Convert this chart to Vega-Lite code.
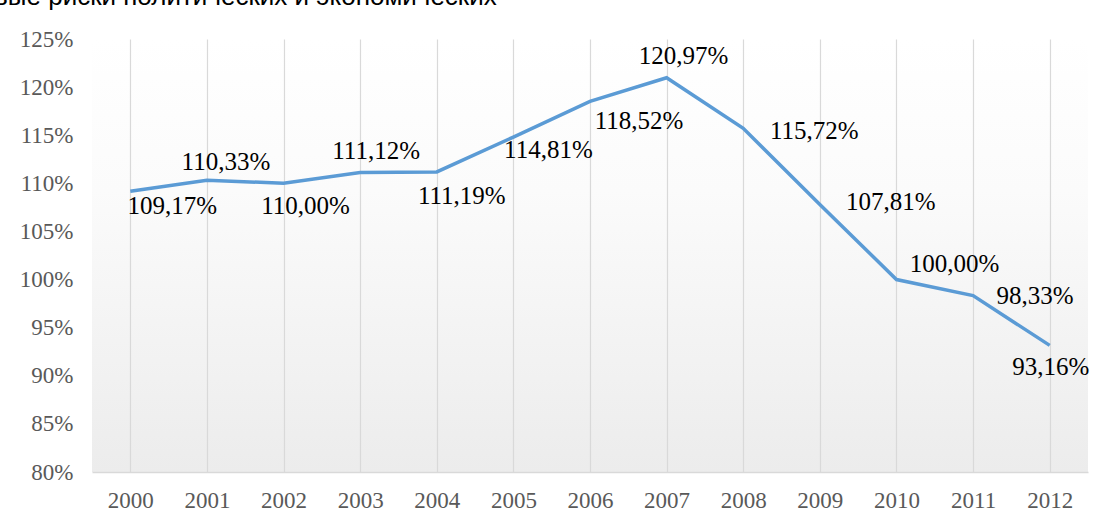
{
  "$schema": "https://vega.github.io/schema/vega-lite/v6.json",
  "autosize": {"type": "none"},
  "width": 996,
  "height": 433,
  "padding": {"left": 92, "top": 39, "right": 14, "bottom": 44},
  "background": "#ffffff",
  "title": {
    "text": "вые риски политических и экономических",
    "anchor": "start",
    "frame": "group",
    "baseline": "alphabetic",
    "offset": 12,
    "dx": -98,
    "dy": 15,
    "font": "Liberation Sans",
    "fontSize": 26,
    "fontWeight": "normal",
    "color": "#000000"
  },
  "config": {
    "view": {
      "stroke": null,
      "fill": {
        "gradient": "linear", "x1": 0, "y1": 0, "x2": 0, "y2": 1,
        "stops": [{"offset": 0, "color": "#ffffff"}, {"offset": 0.35, "color": "#fbfbfb"}, {"offset": 1, "color": "#ececec"}]
      }
    }
  },
  "data": {
    "values": [
      {"year": 2000, "value": 1.0917},
      {"year": 2001, "value": 1.1033},
      {"year": 2002, "value": 1.1000},
      {"year": 2003, "value": 1.1112},
      {"year": 2004, "value": 1.1119},
      {"year": 2005, "value": 1.1481},
      {"year": 2006, "value": 1.1852},
      {"year": 2007, "value": 1.2097},
      {"year": 2008, "value": 1.1572},
      {"year": 2009, "value": 1.0781},
      {"year": 2010, "value": 1.0000},
      {"year": 2011, "value": 0.9833},
      {"year": 2012, "value": 0.9316}
    ]
  },
  "transform": [{"calculate": "replace(format(datum.value, '.2%'), '.', ',')", "as": "label"}],
  "encoding": {
    "x": {
      "field": "year", "type": "ordinal",
      "scale": {"type": "point", "padding": 0.5},
      "axis": {
        "title": null, "labelAngle": 0, "ticks": false,
        "domain": true, "domainColor": "#d9d9d9", "domainWidth": 1.5,
        "grid": true, "gridColor": "#d9d9d9", "gridWidth": 1.2,
        "labelFont": "Liberation Serif", "labelFontSize": 23, "labelColor": "#595959",
        "labelPadding": 17
      }
    },
    "y": {
      "field": "value", "type": "quantitative",
      "scale": {"domain": [0.8, 1.25], "nice": false, "zero": false},
      "axis": {
        "title": null, "format": ".0%",
        "values": [0.8, 0.85, 0.9, 0.95, 1.0, 1.05, 1.1, 1.15, 1.2, 1.25],
        "grid": false, "ticks": false, "domain": false,
        "labelFont": "serif", "labelFontSize": 23, "labelColor": "#595959",
        "labelPadding": 19
      }
    }
  },
  "layer": [
    {"mark": {"type": "line", "color": "#5b9bd5", "strokeWidth": 3.5}},
    {"transform": [{"filter": "datum.year == 2000"}], "mark": {"type": "text", "font": "Times New Roman", "fontSize": 25, "color": "#000000", "align": "center", "baseline": "middle", "dx": 42, "dy": 15}, "encoding": {"text": {"field": "label", "type": "nominal"}}},
    {"transform": [{"filter": "datum.year == 2001"}], "mark": {"type": "text", "font": "Times New Roman", "fontSize": 25, "color": "#000000", "align": "center", "baseline": "middle", "dx": 19, "dy": -18}, "encoding": {"text": {"field": "label", "type": "nominal"}}},
    {"transform": [{"filter": "datum.year == 2002"}], "mark": {"type": "text", "font": "Times New Roman", "fontSize": 25, "color": "#000000", "align": "center", "baseline": "middle", "dx": 22, "dy": 23}, "encoding": {"text": {"field": "label", "type": "nominal"}}},
    {"transform": [{"filter": "datum.year == 2003"}], "mark": {"type": "text", "font": "Times New Roman", "fontSize": 25, "color": "#000000", "align": "center", "baseline": "middle", "dx": 16, "dy": -22}, "encoding": {"text": {"field": "label", "type": "nominal"}}},
    {"transform": [{"filter": "datum.year == 2004"}], "mark": {"type": "text", "font": "Times New Roman", "fontSize": 25, "color": "#000000", "align": "center", "baseline": "middle", "dx": 25, "dy": 24}, "encoding": {"text": {"field": "label", "type": "nominal"}}},
    {"transform": [{"filter": "datum.year == 2005"}], "mark": {"type": "text", "font": "Times New Roman", "fontSize": 25, "color": "#000000", "align": "center", "baseline": "middle", "dx": 35, "dy": 13}, "encoding": {"text": {"field": "label", "type": "nominal"}}},
    {"transform": [{"filter": "datum.year == 2006"}], "mark": {"type": "text", "font": "Times New Roman", "fontSize": 25, "color": "#000000", "align": "center", "baseline": "middle", "dx": 49, "dy": 20}, "encoding": {"text": {"field": "label", "type": "nominal"}}},
    {"transform": [{"filter": "datum.year == 2007"}], "mark": {"type": "text", "font": "Times New Roman", "fontSize": 25, "color": "#000000", "align": "center", "baseline": "middle", "dx": 17, "dy": -22}, "encoding": {"text": {"field": "label", "type": "nominal"}}},
    {"transform": [{"filter": "datum.year == 2008"}], "mark": {"type": "text", "font": "Times New Roman", "fontSize": 25, "color": "#000000", "align": "center", "baseline": "middle", "dx": 71, "dy": 3}, "encoding": {"text": {"field": "label", "type": "nominal"}}},
    {"transform": [{"filter": "datum.year == 2009"}], "mark": {"type": "text", "font": "Times New Roman", "fontSize": 25, "color": "#000000", "align": "center", "baseline": "middle", "dx": 71, "dy": -2}, "encoding": {"text": {"field": "label", "type": "nominal"}}},
    {"transform": [{"filter": "datum.year == 2010"}], "mark": {"type": "text", "font": "Times New Roman", "fontSize": 25, "color": "#000000", "align": "center", "baseline": "middle", "dx": 58, "dy": -16}, "encoding": {"text": {"field": "label", "type": "nominal"}}},
    {"transform": [{"filter": "datum.year == 2011"}], "mark": {"type": "text", "font": "Times New Roman", "fontSize": 25, "color": "#000000", "align": "center", "baseline": "middle", "dx": 62, "dy": 0}, "encoding": {"text": {"field": "label", "type": "nominal"}}},
    {"transform": [{"filter": "datum.year == 2012"}], "mark": {"type": "text", "font": "Times New Roman", "fontSize": 25, "color": "#000000", "align": "center", "baseline": "middle", "dx": 1, "dy": 22}, "encoding": {"text": {"field": "label", "type": "nominal"}}}
  ]
}
